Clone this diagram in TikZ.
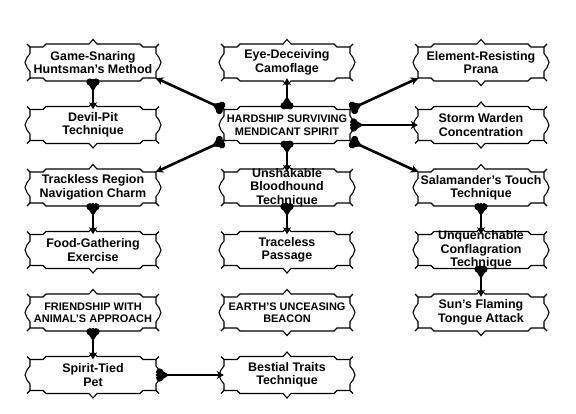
\documentclass[tikz,border=0pt]{standalone}
\usepackage{fontspec}
\setmainfont{Liberation Sans}
\usetikzlibrary{arrows.meta, decorations.markings}

\tikzset{
  charmframe/.pic={
    \draw[line width=1.1bp, line join=miter]
      (-63,-15.5) -- (-50,-15.5) -- (-47,-18.5) -- (-4,-18.5) -- (0,-23) -- (4,-18.5)
      -- (47,-18.5) -- (50,-15.5) -- (63,-15.5)
      -- (63,-9) -- (66,-5) -- (68,0) -- (66,5) -- (63,9) -- (63,15.5)
      -- (50,15.5) -- (47,18.5) -- (4,18.5) -- (0,23) -- (-4,18.5)
      -- (-47,18.5) -- (-50,15.5) -- (-63,15.5)
      -- (-63,9) -- (-66,5) -- (-68,0) -- (-66,-5) -- (-63,-9) -- cycle;
    \draw[line width=1.1bp]
      (-63,-15.5) -- (-66,-18.5) (63,-15.5) -- (66,-18.5)
      (-63,15.5) -- (-66,18.5) (63,15.5) -- (66,18.5);
  },
  % heart at the prerequisite end of a link
  heartmark/.style={decoration={markings, mark=at position 1bp with {
      \fill (2.5,-3) circle (3.6) (2.5,3) circle (3.6);
      \fill (2,-6.3) -- (12,0) -- (2,6.3) -- cycle;
    }}, postaction={decorate}},
}

\begin{document}
\begin{tikzpicture}[x=1bp, y=-1bp,
  charm/.style={inner sep=0pt, minimum width=126bp, minimum height=31bp, align=center,
    font=\bfseries\fontsize{12.5}{13.5}\selectfont},
  caps/.style={charm, font=\bfseries\fontsize{11}{12.5}\selectfont},
  tall/.style={inner ysep=-5bp},
  link/.style={line width=2.6bp, -{Stealth[length=7bp, width=8bp, inset=2bp]}, heartmark}]
  \useasboundingbox (0,0) rectangle (576,413);

  % left column
  \node[charm] (gamesnare) at (93,62.5) {Game-Snaring\\Huntsman's Method};
  \node[charm] (devilpit) at (93,125) {Devil-Pit\\Technique};
  \node[charm] (trackless) at (93,187.5) {Trackless Region\\Navigation Charm};
  \node[charm] (foodgather) at (93,250) {Food-Gathering\\Exercise};
  \node[caps] (friendship) at (93,312.5) {FRIENDSHIP WITH\\ANIMAL'S APPROACH};
  \node[charm] (spiritpet) at (93,375) {Spirit-Tied\\Pet};

  % middle column
  \node[charm] (eyedeceive) at (287,62.5) {Eye-Deceiving\\Camoflage};
  \node[caps] (hardship) at (287,125) {HARDSHIP SURVIVING\\MENDICANT SPIRIT};
  \node[charm, tall] (bloodhound) at (287,187.5) {Unshakable\\Bloodhound\\Technique};
  \node[charm] (traceless) at (287,250) {Traceless\\Passage};
  \node[caps] (earthbeacon) at (287,312.5) {EARTH'S UNCEASING\\BEACON};
  \node[charm] (bestial) at (287,375) {Bestial Traits\\Technique};

  % right column
  \node[charm] (elemprana) at (481,62.5) {Element-Resisting\\Prana};
  \node[charm] (stormwarden) at (481,125) {Storm Warden\\Concentration};
  \node[charm] (salamander) at (481,187.5) {Salamander's Touch\\Technique};
  \node[charm, tall] (unquench) at (481,250) {Unquenchable\\Conflagration\\Technique};
  \node[charm] (sunflame) at (481,312.5) {Sun's Flaming\\Tongue Attack};

  \foreach \n in {gamesnare, devilpit, trackless, foodgather, friendship, spiritpet,
    eyedeceive, hardship, bloodhound, traceless, earthbeacon, bestial,
    elemprana, stormwarden, salamander, unquench, sunflame}
    \pic at (\n) {charmframe};

  % prerequisites
  \draw[link] (hardship.north) -- (eyedeceive.south);
  \draw[link] (hardship.south) -- (bloodhound.north);
  \draw[link] (hardship.north west) -- (gamesnare.south east);
  \draw[link] (hardship.south west) -- (trackless.north east);
  \draw[link] (hardship.north east) -- (elemprana.south west);
  \draw[link] (hardship.east) -- (stormwarden.west);
  \draw[link] (hardship.south east) -- (salamander.north west);
  \draw[link] ([yshift=-0.3pt]gamesnare.south) -- (devilpit.north);
  \draw[link] (trackless.south) -- (foodgather.north);
  \draw[link] (bloodhound.south) -- (traceless.north);
  \draw[link] (salamander.south) -- (unquench.north);
  \draw[link] (unquench.south) -- (sunflame.north);
  \draw[link] (friendship.south) -- (spiritpet.north);
  \draw[link] (spiritpet.east) -- (bestial.west);
\end{tikzpicture}
\end{document}
